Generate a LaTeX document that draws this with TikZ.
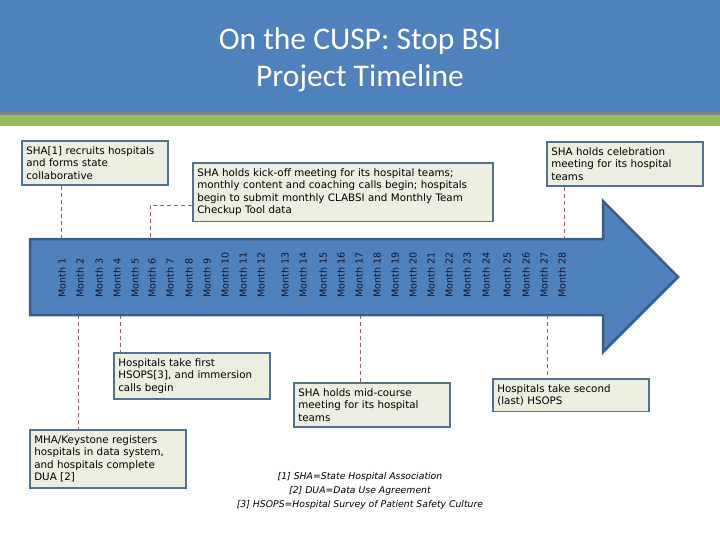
\documentclass[tikz,border=0pt]{standalone}
\usepackage{fontspec}
\setmainfont{DejaVu Sans}
\newfontfamily\titlefont{Carlito}
\definecolor{headblue}{RGB}{79,129,189}
\definecolor{arrowborder}{RGB}{56,93,138}
\definecolor{boxfill}{RGB}{235,238,224}
\definecolor{boxborder}{RGB}{85,113,145}
\definecolor{connc}{RGB}{150,95,95}
\definecolor{bandgreen}{RGB}{155,187,89}
\definecolor{bandgray}{RGB}{125,135,120}
\definecolor{monthtext}{RGB}{20,20,40}
\begin{document}
\begin{tikzpicture}[x=1pt,y=-1pt,
  box/.style={draw=boxborder, line width=1.6pt, fill=boxfill, anchor=north west, align=left,
    inner xsep=4.5pt, inner ysep=5.5pt, font=\fontsize{10.3}{12.6}\selectfont, text width=#1},
  conn/.style={draw=connc, line width=0.7pt, dash pattern=on 4pt off 3pt},
  month/.style={rotate=90, anchor=west, font=\fontsize{9.6}{10}\selectfont, inner sep=0pt, text=monthtext},
  foot/.style={align=center, font=\fontsize{9.3}{14}\selectfont\itshape},
]
\useasboundingbox (0,0) rectangle (720,540);
% header
\fill[headblue] (0,0) rectangle (720,112);
\fill[bandgray] (0,112) rectangle (720,115);
\fill[bandgreen] (0,115) rectangle (720,126);
\node[text=white, align=center, font=\titlefont\fontsize{31.5}{37}\selectfont] (title) at (360,60)
  {On the CUSP: Stop BSI\\Project Timeline};

% boxes
\node[box=137pt] (b1) at (21,140) {SHA[1] recruits hospitals\\and forms state\\collaborative};
\node[box=291pt] (b2) at (192,162) {SHA holds kick-off meeting for its hospital teams;\\monthly content and coaching calls begin; hospitals\\begin to submit monthly CLABSI and Monthly Team\\Checkup Tool data};
\node[box=147pt] (b3) at (546,141) {SHA holds celebration\\meeting for its hospital\\teams};
\node[box=147pt] (b4) at (113,352) {Hospitals take first\\HSOPS[3], and immersion\\calls begin};
\node[box=147pt] (b5) at (293,382) {SHA holds mid-course\\meeting for its hospital\\teams};
\node[box=147pt] (b6) at (29,429) {MHA/Keystone registers\\hospitals in data system,\\and hospitals complete\\DUA [2]};
\node[box=147pt] (b7) at (492,378) {Hospitals take second\\(last) HSOPS};

% connector end points on the arrow
\coordinate (t1) at (61,239);
\coordinate (k6) at (150,205);
\coordinate (t6) at (150,239);
\coordinate (t28) at (564,239);
\coordinate (u2) at (78,315);
\coordinate (u4) at (120,315);
\coordinate (u17) at (360,315);
\coordinate (u27) at (547,315);
\draw[conn] (b1.south -| t1) -- (t1);
\draw[conn] (b2.west |- k6) -- (k6) -- (t6);
\draw[conn] (b3.south -| t28) -- (t28);
\draw[conn] (u2) -- (b6.north -| u2);
\draw[conn] (u4) -- (b4.north -| u4);
\draw[conn] (u17) -- (b5.north -| u17);
\draw[conn] (u27) -- (b7.north -| u27);

% arrow
\draw[fill=headblue, draw=arrowborder, line width=2.5pt, line join=miter]
  (30,239) -- (603,239) -- (603,201) -- (678,277) -- (603,352) -- (603,315) -- (30,315) -- cycle;

% months
\foreach \i/\x in {1/62,2/80,3/99,4/117,5/135,6/152,7/170,8/189,9/207,10/225,11/243,12/261,
  13/285,14/303,15/323,16/341,17/359,18/377,19/395,20/413,21/431,22/449,23/467,24/486,
  25/507,26/526,27/544,28/562}
  \node[month] (m\i) at (\x,298) {Month \i};

% footnotes
\node[foot] (notes) at (360,491) {[1] SHA=State Hospital Association\\{}[2] DUA=Data Use Agreement\\{}[3] HSOPS=Hospital Survey of Patient Safety Culture};
\end{tikzpicture}
\end{document}
